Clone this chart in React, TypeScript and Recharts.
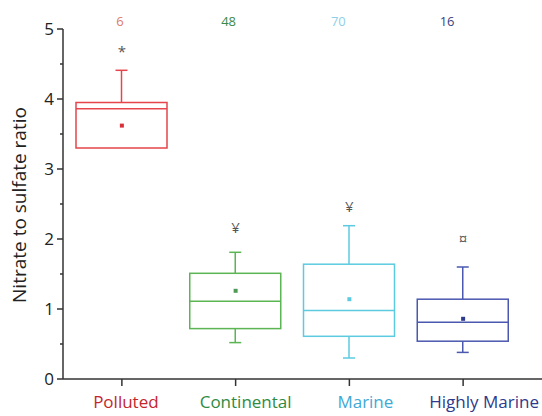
import React from "react";
import { ComposedChart, Bar, Scatter, XAxis, YAxis } from "recharts";

const categories = ["Polluted", "Continental", "Marine", "Highly Marine"];
const counts = ["6", "48", "70", "16"];
const whiskerLow = [3.3, 0.52, 0.3, 0.38];
const q1 = [3.3, 0.72, 0.61, 0.54];
const median = [3.86, 1.11, 0.98, 0.81];
const q3 = [3.95, 1.51, 1.64, 1.14];
const whiskerHigh = [4.41, 1.81, 2.19, 1.6];
const means = [3.62, 1.26, 1.14, 0.86];
const markSymbols = ["*", "¥", "¥", "¤"];
const markValues = [4.67, 2.16, 2.46, 2.0];
const yTicks = [0, 0.5, 1, 1.5, 2, 2.5, 3, 3.5, 4, 4.5, 5];

const BOX_COLORS = ["#e5454b", "#5bb552", "#5ccbe0", "#4a58b0"];
const LABEL_COLORS = ["#c4262e", "#2e8b45", "#3fa9d6", "#2e3a8c"];
const COUNT_COLORS = ["#e07a68", "#3b8a4a", "#8fd0e6", "#3a3f80"];
const MEAN_COLORS = ["#d9303a", "#4f9a55", "#5ccbe0", "#2e3a8c"];
const FONT = "'Open Sans', sans-serif";

const data = categories.map((name, i) => ({
  name,
  count: counts[i],
  whisker: [whiskerLow[i], whiskerHigh[i]],
  low: whiskerLow[i],
  high: whiskerHigh[i],
  q1: q1[i],
  median: median[i],
  q3: q3[i],
  mean: means[i],
  mark: markValues[i],
  symbol: markSymbols[i],
  idx: i,
}));

function BoxShape(props: any) {
  const { x, y, width, height, payload } = props;
  const { low, high, idx } = payload;
  // the bar spans [low, high], so map other values along it
  const toY = (v: number) => y + ((high - v) / (high - low)) * height;
  const cx = x + width / 2;
  const color = BOX_COLORS[idx];
  const yq1 = toY(payload.q1);
  const yq3 = toY(payload.q3);
  const ymed = toY(payload.median);
  const cap = 6;
  return (
    <g stroke={color} strokeWidth={1.5} fill="none">
      <line x1={cx} x2={cx} y1={toY(high)} y2={yq3} />
      <line x1={cx - cap} x2={cx + cap} y1={toY(high)} y2={toY(high)} />
      {low < payload.q1 && (
        <>
          <line x1={cx} x2={cx} y1={yq1} y2={toY(low)} />
          <line x1={cx - cap} x2={cx + cap} y1={toY(low)} y2={toY(low)} />
        </>
      )}
      <rect x={x} y={yq3} width={width} height={yq1 - yq3} />
      <line x1={x} x2={x + width} y1={ymed} y2={ymed} />
    </g>
  );
}

function MeanShape(props: any) {
  const { cx, cy, payload } = props;
  return <rect x={cx - 2} y={cy - 2} width={4} height={4} fill={MEAN_COLORS[payload.idx]} />;
}

function MarkShape(props: any) {
  const { cx, cy, payload } = props;
  return (
    <text x={cx} y={cy + 5} textAnchor="middle" fontSize={15} fill="#555" fontFamily={FONT}>
      {payload.symbol}
    </text>
  );
}

const LABEL_SHIFT = [4, 10, 16, 21];
const COUNT_SHIFT = [-2, -7, -11, -16];

function BottomTick(props: any) {
  const { x, y, payload, index } = props;
  return (
    <g>
      <line x1={x} x2={x} y1={y - 8} y2={y - 1} stroke="#333" strokeWidth={1.5} />
      <text
        x={x + LABEL_SHIFT[index]}
        y={y + 21}
        textAnchor="middle"
        fontSize={17}
        fill={LABEL_COLORS[index]}
        fontFamily={FONT}
      >
        {payload.value}
      </text>
    </g>
  );
}

function TopTick(props: any) {
  const { x, y, index } = props;
  return (
    <text
      x={x + COUNT_SHIFT[index]}
      y={y + 5}
      textAnchor="middle"
      fontSize={13}
      fill={COUNT_COLORS[index]}
      fontFamily={FONT}
    >
      {counts[index]}
    </text>
  );
}

function LeftTick(props: any) {
  const { x, y, payload } = props;
  const axisX = x + 8;
  const major = Number.isInteger(payload.value);
  return (
    <g>
      <line x1={axisX - (major ? 6 : 3)} x2={axisX} y1={y} y2={y} stroke="#333" strokeWidth={1.5} />
      {major && (
        <text x={axisX - 9} y={y + 6} textAnchor="end" fontSize={17} fill="#222" fontFamily={FONT}>
          {payload.value}
        </text>
      )}
    </g>
  );
}

function YLabel(props: any) {
  const { viewBox } = props;
  const cx = viewBox.x + 21;
  const cy = 205;
  return (
    <text
      x={cx}
      y={cy}
      transform={`rotate(-90 ${cx} ${cy})`}
      textAnchor="middle"
      dominantBaseline="middle"
      fontSize={19}
      fill="#222"
      fontFamily={FONT}
    >
      Nitrate to sulfate ratio
    </text>
  );
}

export default function App() {
  return (
    <div style={{ position: "absolute", left: 0, top: 0, background: "#fff" }}>
      <ComposedChart
        width={542}
        height={416}
        data={data}
        margin={{ top: 9, right: 0, bottom: 0, left: 0 }}
        barSize={91}
      >
        <XAxis
          xAxisId="bottom"
          dataKey="name"
          height={37}
          padding={{ left: 2, right: 22 }}
          axisLine={{ stroke: "#333", strokeWidth: 1.5 }}
          tickLine={false}
          tick={<BottomTick />}
          interval={0}
        />
        <XAxis
          xAxisId="top"
          dataKey="name"
          orientation="top"
          height={20}
          padding={{ left: 2, right: 22 }}
          axisLine={false}
          tickLine={false}
          tick={<TopTick />}
          interval={0}
        />
        <YAxis
          width={63}
          domain={[0, 5]}
          ticks={yTicks}
          interval={0}
          axisLine={{ stroke: "#333", strokeWidth: 1.5 }}
          tickLine={false}
          tick={<LeftTick />}
          label={<YLabel />}
        />
        <Bar
          xAxisId="bottom"
          dataKey="whisker"
          shape={<BoxShape />}
          isAnimationActive={false}
        />
        <Scatter xAxisId="bottom" dataKey="mean" shape={<MeanShape />} isAnimationActive={false} />
        <Scatter xAxisId="bottom" dataKey="mark" shape={<MarkShape />} isAnimationActive={false} />
      </ComposedChart>
    </div>
  );
}
